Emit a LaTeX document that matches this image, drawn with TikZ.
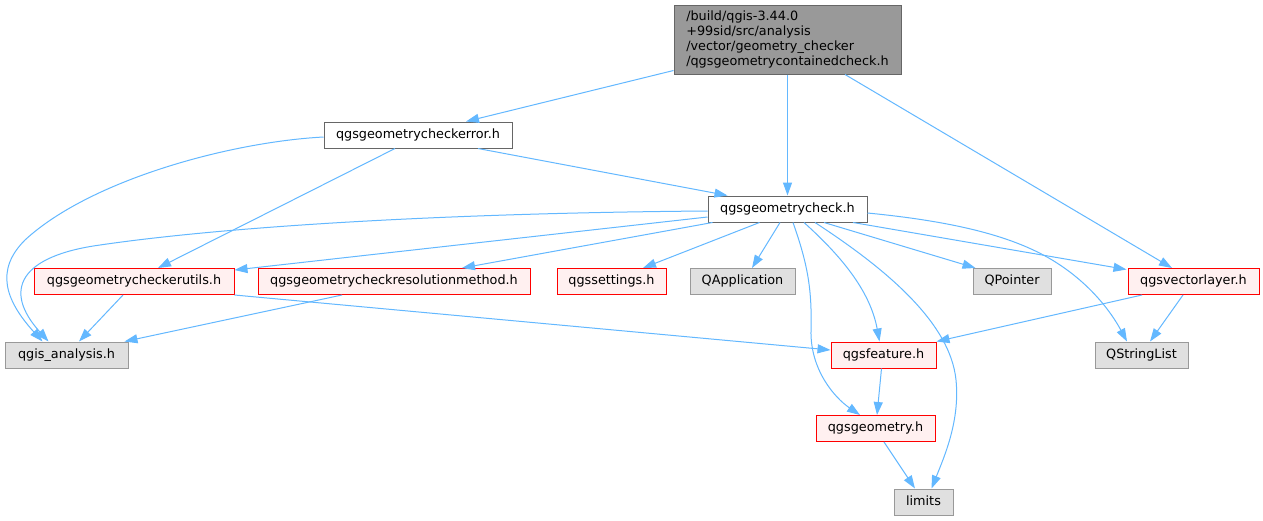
\documentclass[tikz,border=0pt]{standalone}
\usepackage{fontspec}
\setmainfont{DejaVu Sans}
\usetikzlibrary{arrows.meta}
\definecolor{edgec}{HTML}{63B8FF}
\definecolor{redfill}{HTML}{FFF0F0}
\definecolor{grayfill}{HTML}{E0E0E0}
\definecolor{grayline}{HTML}{999999}
\definecolor{darkline}{HTML}{666666}
\definecolor{rootfill}{HTML}{999999}
\begin{document}
\begin{tikzpicture}[x=1pt,y=-1pt,
  lbl/.style={font=\fontsize{12.8}{15}\selectfont, inner sep=0pt, line width=1pt},
  onebox/.style={lbl, minimum height=26pt, text height=9pt, text depth=3pt},
  whitebox/.style={onebox, draw=darkline, fill=white},
  redbox/.style={onebox, draw=red, fill=redfill},
  graybox/.style={onebox, draw=grayline, fill=grayfill},
  rootbox/.style={lbl, draw=darkline, fill=rootfill, align=left},
  dep/.style={draw=edgec, line width=1pt, -{Triangle[length=13pt,width=9pt]}}
]
\useasboundingbox[fill=white] (0,0) rectangle (1263,520);

% nodes
\node[rootbox, minimum width=227pt, minimum height=69pt] (root) at (787.5,39.5)
  {/build/qgis-3.44.0\\+99sid/src/analysis\\/vector/geometry\_checker\\/qgsgeometrycontainedcheck.h};
\node[whitebox, minimum width=188pt] (cerr) at (418,135) {qgsgeometrycheckerror.h};
\node[whitebox, minimum width=159pt] (check) at (787.5,209) {qgsgeometrycheck.h};
\node[redbox, minimum width=200pt] (utils) at (134,281.5) {qgsgeometrycheckerutils.h};
\node[redbox, minimum width=272pt] (resol) at (394,281.5) {qgsgeometrycheckresolutionmethod.h};
\node[redbox, minimum width=109pt] (settings) at (611.5,281.5) {qgssettings.h};
\node[graybox, minimum width=105pt] (qapp) at (742.5,281.5) {QApplication};
\node[graybox, minimum width=78pt] (qptr) at (1012,281.5) {QPointer};
\node[redbox, minimum width=131pt] (vlayer) at (1193.5,281.5) {qgsvectorlayer.h};
\node[graybox, minimum width=123pt] (qa) at (66.5,355) {qgis\_analysis.h};
\node[redbox, minimum width=105pt] (feat) at (883.5,355) {qgsfeature.h};
\node[graybox, minimum width=93pt] (qsl) at (1141.5,355) {QStringList};
\node[redbox, minimum width=119pt] (geom) at (875.5,428.5) {qgsgeometry.h};
\node[graybox, minimum width=59pt] (lim) at (923.5,502) {limits};

% edges from root
\draw[dep] ([yshift=4pt]root.south west) -- ([xshift=48pt]cerr.north);
\draw[dep] (root.south) -- (check.north);
\draw[dep] ([xshift=57.5pt]root.south) -- ([xshift=-21.5pt]vlayer.north);

% edges from qgsgeometrycheckerror.h
\draw[dep] ([yshift=-2pt]cerr.west) .. controls (230,142) and (90,180) .. (25,240)
  .. controls (-5,270) and (5,300) .. ([xshift=-24pt]qa.north);
\draw[dep] ([xshift=-23pt]cerr.south) -- ([xshift=24pt]utils.north);
\draw[dep] ([xshift=60pt]cerr.south) -- ([xshift=-60pt]check.north);

% edges from qgsgeometrycheck.h
\draw[dep] ([yshift=-2pt]check.west) .. controls (450,213) and (230,226) .. (100,245)
  .. controls (20,256) and (2,290) .. ([xshift=-18pt]qa.north);
\draw[dep] ([yshift=-8pt]check.west) -- ([yshift=-2pt]utils.north east);
\draw[dep] ([xshift=-75pt]check.south) -- ([xshift=68pt]resol.north);
\draw[dep] ([xshift=-28pt]check.south) -- ([xshift=31.5pt]settings.north);
\draw[dep] ([xshift=-7.5pt]check.south) -- ([xshift=9.5pt]qapp.north);
\draw[dep] ([xshift=5.5pt]check.south) .. controls (808,265) and (812,290) .. (811,330)
  .. controls (810,370) and (835,398) .. ([xshift=-15.5pt]geom.north);
\draw[dep] ([xshift=16.5pt]check.south) .. controls (840,255) and (870,290) .. ([xshift=-4pt]feat.north);
\draw[dep] ([xshift=27.5pt]check.south) .. controls (880,265) and (950,320) .. (956,380)
  .. controls (960,420) and (945,455) .. ([xshift=8pt]lim.north);
\draw[dep] ([xshift=36.5pt]check.south) -- ([xshift=3pt]qptr.north west);
\draw[dep] ([xshift=65.5pt]check.south) -- ([xshift=-1pt,yshift=-1.5pt]vlayer.north west);
\draw[dep] ([yshift=-4pt]check.east) .. controls (960,222) and (1020,238) .. (1060,265)
  .. controls (1090,285) and (1110,310) .. ([xshift=-14.5pt]qsl.north);

% other edges
\draw[dep] ([xshift=-11pt]utils.south) -- ([xshift=12.5pt]qa.north);
\draw[dep] (utils.south east) -- ([yshift=5pt]feat.west);
\draw[dep] ([xshift=-52pt]resol.south) -- ([xshift=-4pt]qa.north east);
\draw[dep] ([xshift=-51.5pt]vlayer.south) -- (feat.north east);
\draw[dep] ([xshift=-10.5pt]vlayer.south) -- ([xshift=8.5pt]qsl.north);
\draw[dep] ([xshift=-2pt]feat.south) -- ([xshift=1.5pt]geom.north);
\draw[dep] ([xshift=8.5pt]geom.south) -- ([xshift=-8.5pt]lim.north);
\end{tikzpicture}
\end{document}
